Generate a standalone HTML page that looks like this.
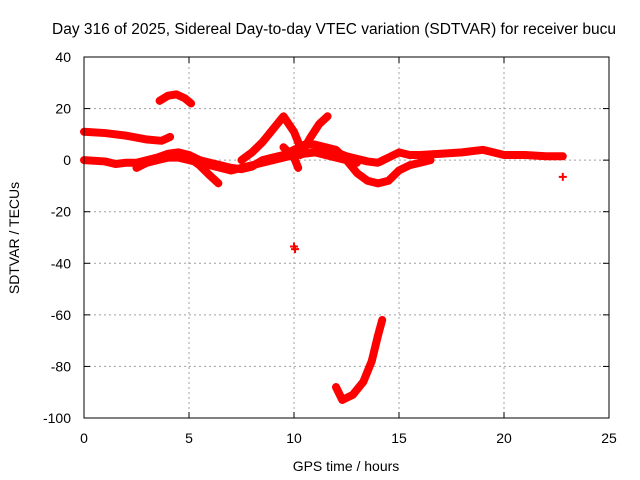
<!DOCTYPE html>
<html><head><meta charset="utf-8"><style>
body{margin:0;background:#fff}
svg{display:block;font-family:"Liberation Sans",sans-serif}
</style></head><body>
<svg id="c" width="640" height="480">
<text x="52" y="34" font-size="15.5" fill="#000">Day 316 of 2025, Sidereal Day-to-day VTEC variation (SDTVAR) for receiver bucu</text>
<g id="grid"></g><g id="ticks"></g><g id="series"></g>
<rect x="84" y="57" width="525" height="361" fill="none" stroke="#000" stroke-width="1"/>
<text x="346" y="471" font-size="14" text-anchor="middle">GPS time / hours</text>
<text transform="translate(19,238) rotate(-90)" font-size="14" text-anchor="middle">SDTVAR / TECUs</text>
</svg>
<script>
const xTicks=[0,5,10,15,20,25];
const yTicks=[40,20,0,-20,-40,-60,-80,-100];
const trackUpper=[[0,11],[1,10.5],[2,9.5],[3,8],[3.7,7.5],[4.1,9]];
const trackArc=[[3.6,23],[4,25],[4.4,25.5],[4.8,24],[5.1,22]];
const trackMain=[[0,0],[1,-0.5],[1.5,-1.5],[2,-1],[2.5,-1],[3,0],[3.5,1],[4,2.5],[4.5,3],[5,2],[5.5,0],[6,-1],[6.5,-2],[7,-3],[7.5,-3.5],[8,-2.5],[8.5,0],[9,1],[9.5,2],[10,4],[10.5,6],[11,6],[11.5,4],[12,3],[12.5,1.5],[13,0.5],[13.5,-0.5],[14,-1],[14.5,1],[15,3],[15.5,2],[16,2],[17,2.5],[18,3],[19,4],[19.5,3],[20,2],[21,2],[22,1.5],[22.8,1.5]];
const trackSecond=[[2.5,-3],[3,-1],[3.5,0],[4,1],[4.5,1],[5,0],[6,-2],[7,-4],[8,-2],[9,0],[10,2],[11,3],[12,1],[13,-1]];
const trackSpur=[[5,1],[5.5,-2],[6,-6],[6.4,-9]];
const trackRise1=[[7.5,0],[8,3],[8.5,7],[9,12],[9.5,17],[10,11],[10.3,5]];
const trackRise2=[[10.3,2],[10.8,9],[11.2,14],[11.6,17]];
const trackBranch=[[9.5,5],[10,1],[10.2,-3]];
const trackLoop=[[11,6],[12,4],[12.5,0],[13,-5],[13.5,-8],[14,-9],[14.5,-8],[15,-4],[15.5,-2],[16,-1],[16.5,0]];
const trackDeep=[[12,-88],[12.3,-93],[12.8,-91],[13.3,-86],[13.7,-78],[14,-68],[14.2,-62]];
const isolated=[[10,-33.5],[10.05,-34.5],[22.8,-6.5]];
const tracks=[["track-upper",trackUpper],["track-arc",trackArc],["track-main",trackMain],["track-second",trackSecond],["track-spur",trackSpur],["track-rise-1",trackRise1],["track-rise-2",trackRise2],["track-branch",trackBranch],["track-loop",trackLoop],["track-deep",trackDeep]];
const X=h=>84+h*21, Y=v=>57+(40-v)*361/140;
const NS="http://www.w3.org/2000/svg";
function mk(t,a,p){const e=document.createElementNS(NS,t);for(const k in a)e.setAttribute(k,a[k]);p.appendChild(e);return e;}
const grid=document.getElementById('grid'),ticks=document.getElementById('ticks'),ser=document.getElementById('series');
xTicks.forEach(t=>{const x=X(t);
 if(t>0&&t<25){const g=mk('line',{x1:x,x2:x,y1:57,y2:418,stroke:'#a0a0a0','stroke-dasharray':'2,3'},grid);
 
 }
 mk('line',{x1:x,x2:x,y1:418,y2:412,stroke:'#000'},ticks);mk('line',{x1:x,x2:x,y1:57,y2:63,stroke:'#000'},ticks);
 const l=mk('text',{x:x,y:443,'font-size':14,'text-anchor':'middle'},ticks);l.textContent=t;
 
 });
yTicks.forEach(t=>{const y=Y(t);
 if(t<40&&t>-100){const g=mk('line',{x1:84,x2:609,y1:y,y2:y,stroke:'#a0a0a0','stroke-dasharray':'2,3'},grid);
 
 }
 mk('line',{x1:84,x2:90,y1:y,y2:y,stroke:'#000'},ticks);mk('line',{x1:603,x2:609,y1:y,y2:y,stroke:'#000'},ticks);
 const l=mk('text',{x:71,y:y+5,'font-size':14,'text-anchor':'end'},ticks);l.textContent=t;
 
 });
tracks.forEach(([n,d])=>{const p=mk('polyline',{points:d.map(q=>X(q[0])+','+Y(q[1])).join(' '),fill:'none',stroke:'#ff0000','stroke-width':8,'stroke-linejoin':'round','stroke-linecap':'round'},ser);
 
 });
isolated.forEach(q=>{const x=X(q[0]),y=Y(q[1]);const p=mk('path',{d:`M${x-4},${y}H${x+4}M${x},${y-4}V${y+4}`,stroke:'#ff0000','stroke-width':2},ser);
 
 });
</script>
</body></html>
